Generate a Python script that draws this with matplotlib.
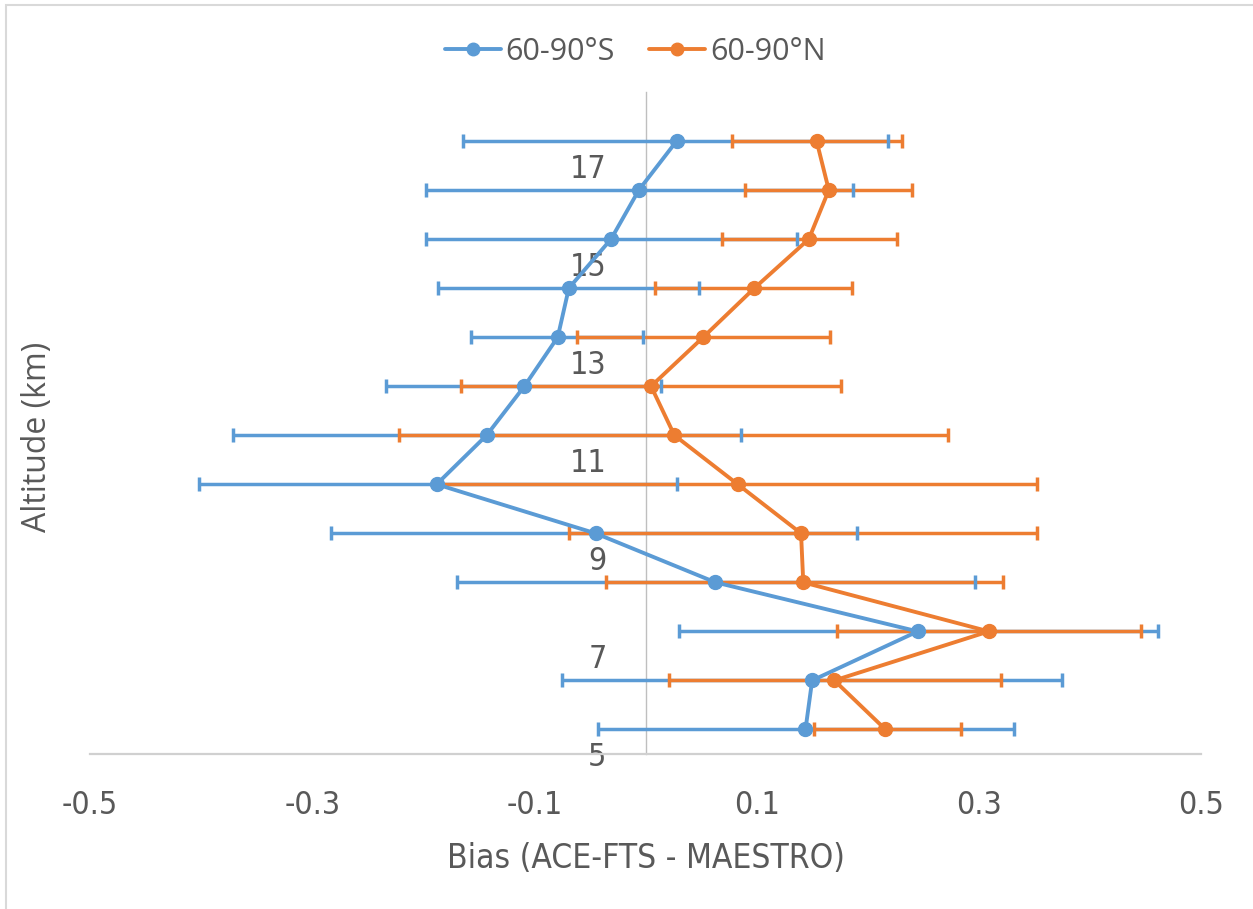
import matplotlib.pyplot as plt
from matplotlib.patches import Rectangle

# altitude levels (km), bin centres
altitude = [17.5, 16.5, 15.5, 14.5, 13.5, 12.5, 11.5, 10.5, 9.5, 8.5, 7.5, 6.5, 5.5]

# 60-90°S
south_bias = [0.028, -0.006, -0.031, -0.069, -0.079, -0.109, -0.143, -0.188, -0.045, 0.063, 0.245, 0.150, 0.144]
south_lo = [-0.164, -0.198, -0.198, -0.187, -0.157, -0.234, -0.371, -0.402, -0.283, -0.170, 0.030, -0.075, -0.043]
south_hi = [0.218, 0.187, 0.136, 0.048, -0.002, 0.014, 0.086, 0.028, 0.190, 0.297, 0.461, 0.375, 0.332]

# 60-90°N
north_bias = [0.154, 0.165, 0.147, 0.098, 0.052, 0.005, 0.026, 0.083, 0.140, 0.142, 0.309, 0.170, 0.216]
north_lo = [0.078, 0.090, 0.069, 0.009, -0.062, -0.166, -0.222, -0.188, -0.069, -0.036, 0.172, 0.021, 0.152]
north_hi = [0.231, 0.240, 0.226, 0.186, 0.166, 0.176, 0.272, 0.352, 0.352, 0.322, 0.446, 0.320, 0.284]

x_ticks = [-0.5, -0.3, -0.1, 0.1, 0.3, 0.5]
y_ticks = [5, 7, 9, 11, 13, 15, 17]

BLUE = '#5B9BD5'
ORANGE = '#ED7D31'
TEXT = '#595959'
GRID = '#BFBFBF'

narrow = {'family': 'DejaVu Sans', 'stretch': 'condensed'}
wide = ['Open Sans', 'DejaVu Sans']

W, H = 1253, 909
fig = plt.figure(figsize=(W / 100, H / 100), dpi=100)
ax = fig.add_axes([90 / W, (H - 754) / H, (1201 - 90) / W, (754 - 92) / H])

series = [
    ('60-90°S', BLUE, south_bias, south_lo, south_hi),
    ('60-90°N', ORANGE, north_bias, north_lo, north_hi),
]

for i, (name, color, bias, lo, hi) in enumerate(series):
    xerr = [[b - l for b, l in zip(bias, lo)], [h - b for b, h in zip(bias, hi)]]
    _, caps, bars = ax.errorbar(bias, altitude, xerr=xerr, fmt='none', ecolor=color,
                                elinewidth=2.5, capsize=5, capthick=2.5)
    for b in bars:
        b.set_zorder(2 + i * 0.1)
    for c in caps:
        c.set_zorder(3)

for i, (name, color, bias, lo, hi) in enumerate(series):
    ax.plot(bias, altitude, color=color, lw=2.8, marker='o', markersize=10,
            label=name, zorder=4 + i, solid_capstyle='round')

for s in ['top', 'right']:
    ax.spines[s].set_visible(False)
ax.spines['left'].set_position(('data', 0))
ax.spines['left'].set_color(GRID)
ax.spines['left'].set_linewidth(1.0)
ax.spines['left'].set_zorder(1)
ax.spines['bottom'].set_color('#D0D0D0')
ax.spines['bottom'].set_linewidth(1.6)

ax.set_xlim(-0.5, 0.5)
ax.set_ylim(5, 18.5)
ax.set_xticks(x_ticks)
ax.set_xticklabels([f'{t:g}' for t in x_ticks], fontsize=23, color=TEXT, **narrow)
ax.set_yticks(y_ticks)
ax.set_yticklabels([str(t) for t in y_ticks], fontsize=23, color=TEXT, **narrow)
ax.tick_params(axis='x', length=0, pad=26)
ax.tick_params(axis='y', length=0, pad=28)

ax.set_xlabel('Bias (ACE-FTS - MAESTRO)', fontsize=24, color=TEXT, labelpad=15, **narrow)
fig.text(38 / W, 1 - 437 / H, 'Altitude (km)', rotation=90, ha='center', va='center',
         family=wide, fontsize=23, color=TEXT)

leg = fig.legend(loc='center', bbox_to_anchor=(635 / W, 1 - 52 / H), ncol=2, frameon=False,
                 prop={'family': wide, 'size': 22}, handlelength=1.85, columnspacing=1.1,
                 handletextpad=0.15)
for t in leg.get_texts():
    t.set_color(TEXT)
for h in leg.legend_handles:
    h.set_markersize(9)

fig.patches.append(Rectangle((6 / W, -0.05), 1.2, 1 - 5 / H + 0.05, transform=fig.transFigure,
                             fill=False, edgecolor='#D9D9D9', lw=1.5))

fig.savefig('out.png', dpi=100, facecolor='white')
